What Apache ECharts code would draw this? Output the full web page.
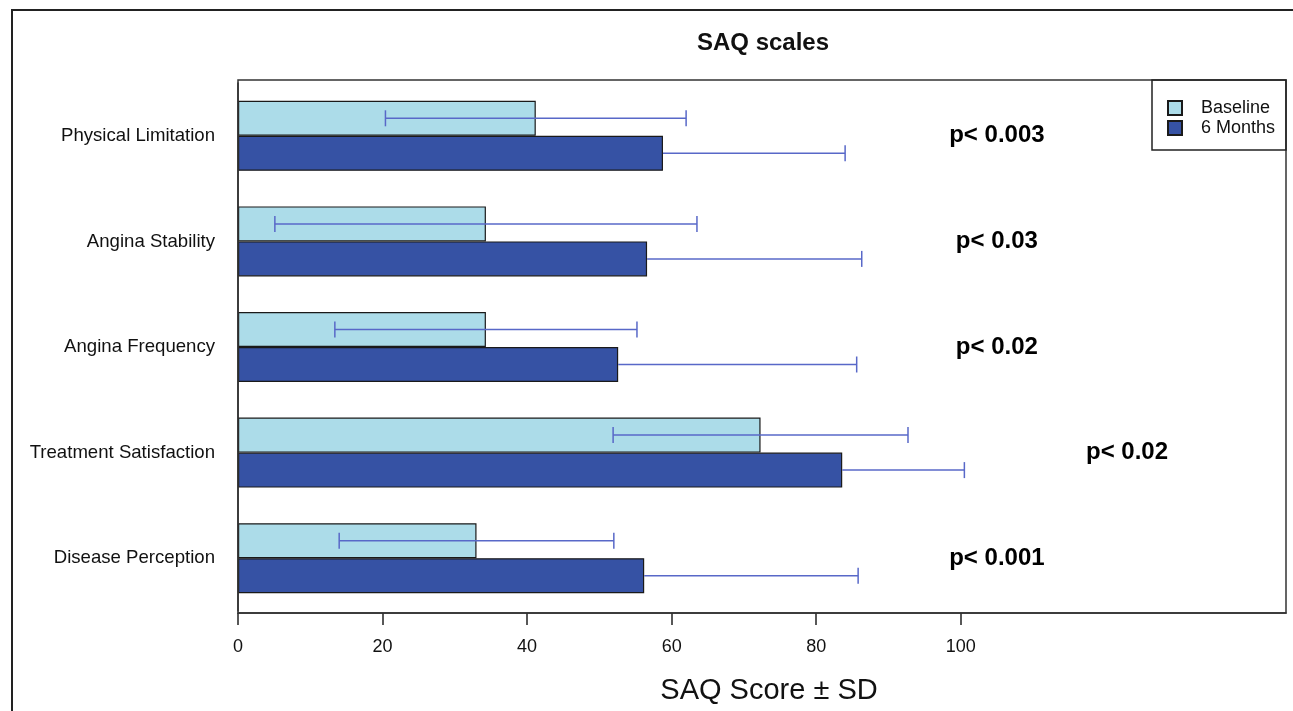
<!DOCTYPE html>
<html><head><meta charset="utf-8">
<script src="https://cdn.jsdelivr.net/npm/echarts@6/dist/echarts.min.js"></script>
<style>html,body{margin:0;padding:0;background:#fff}#c{width:1293px;height:711px}</style>
</head><body><div id="c"></div>
<script>
const categories = ['Physical Limitation','Angina Stability','Angina Frequency','Treatment Satisfaction','Disease Perception'];
const baselineMean = [41.2, 34.3, 34.3, 72.3, 33.0];
const baselineSD   = [20.8, 29.2, 20.9, 20.4, 19.0];
const monthsMean   = [58.8, 56.6, 52.6, 83.6, 56.2];
const monthsSD     = [25.2, 29.7, 33.0, 16.9, 29.6];
const pLabels = ['p< 0.003','p< 0.03','p< 0.02','p< 0.02','p< 0.001'];
const pLabelX = [105, 105, 105, 123, 105];
const xTicks = [0, 20, 40, 60, 80, 100];

const FONT = '"Liberation Sans", Arial, Helvetica, sans-serif';
const errColor = '#5868c8';
const BAR_W = 35;

function errorSeries(name, means, sds, offset, bothSides) {
  return {
    type: 'custom', name: name, z: 10, silent: true,
    renderItem: function (params, api) {
      const i = api.value(0), m = api.value(1), s = api.value(2);
      const lo = api.coord([bothSides ? m - s : m, i]);
      const hi = api.coord([m + s, i]);
      const y = lo[1] + offset;
      const cap = 8;
      const style = { stroke: errColor, lineWidth: 1.5 };
      const children = [
        { type: 'line', shape: { x1: lo[0], y1: y, x2: hi[0], y2: y }, style: style },
        { type: 'line', shape: { x1: hi[0], y1: y - cap, x2: hi[0], y2: y + cap }, style: style }
      ];
      if (bothSides) children.push({ type: 'line', shape: { x1: lo[0], y1: y - cap, x2: lo[0], y2: y + cap }, style: style });
      return { type: 'group', children: children };
    },
    encode: { x: [1, 2], y: 0 },
    data: means.map((m, i) => [i, m, sds[i]])
  };
}

const chart = echarts.init(document.getElementById('c'), null, { renderer: 'canvas' });
chart.setOption({
  animation: false,
  backgroundColor: '#fff',
  textStyle: { fontFamily: FONT },
  title: {
    text: 'SAQ scales', left: 758, top: 26, textAlign: 'center',
    textStyle: { fontFamily: FONT, fontSize: 24, fontWeight: 'bold', color: '#111' }
  },
  graphic: [
    { type: 'rect', z: 100, shape: { x: 12, y: 10, width: 1400, height: 900 }, style: { fill: null, stroke: '#222', lineWidth: 2 } },
    { type: 'rect', z: 100, shape: { x: 238, y: 80, width: 1048, height: 533 }, style: { fill: null, stroke: '#333', lineWidth: 1.5 } },
    { type: 'rect', z: 100, shape: { x: 1152, y: 80, width: 134, height: 70 }, style: { fill: null, stroke: '#222', lineWidth: 1.5 } }
  ],
  legend: {
    orient: 'vertical', left: 1167, top: 99,
    data: ['Baseline', '6 Months'],
    itemWidth: 14, itemHeight: 14, itemGap: 2, padding: 0,
    icon: 'rect',
    textStyle: { fontFamily: FONT, fontSize: 18, color: '#111', padding: [0, 0, 0, 14] }
  },
  grid: { left: 238, right: 7, top: 83, bottom: 100, show: false, containLabel: false },
  xAxis: {
    type: 'value', min: 0, max: 145, interval: 20, offset: 2,
    axisLine: { show: true, lineStyle: { color: '#222', width: 1.5 } },
    axisTick: { show: true, length: 12, customValues: xTicks, lineStyle: { color: '#222', width: 1.5 } },
    axisLabel: { customValues: xTicks, fontFamily: FONT, fontSize: 18, color: '#111', margin: 25 },
    splitLine: { show: false },
    name: 'SAQ Score ± SD', nameLocation: 'middle', nameGap: 63,
    nameTextStyle: { fontFamily: FONT, fontSize: 29, color: '#111', padding: [0, 0, 0, 14] }
  },
  yAxis: {
    type: 'category', data: categories, inverse: true,
    axisLine: { show: true, lineStyle: { color: '#222', width: 1.5 } },
    axisTick: { show: false },
    axisLabel: { fontFamily: FONT, fontSize: 18.6, color: '#111', margin: 23 },
    splitLine: { show: false }
  },
  series: [
    { type: 'bar', name: 'Baseline', data: baselineMean, barWidth: BAR_W, barGap: '0%',
      itemStyle: { color: '#acdce9', borderColor: '#1a1a1a', borderWidth: 1.2 } },
    { type: 'bar', name: '6 Months', data: monthsMean, barWidth: BAR_W, barGap: '0%',
      itemStyle: { color: '#3652a4', borderColor: '#1a1a1a', borderWidth: 1.2 } },
    errorSeries('Baseline SD', baselineMean, baselineSD, -BAR_W / 2, true),
    errorSeries('6 Months SD', monthsMean, monthsSD, BAR_W / 2, false),
    { type: 'scatter', name: 'p', symbolSize: 1, silent: true,
      itemStyle: { color: 'rgba(0,0,0,0)', opacity: 1 },
      data: pLabels.map((t, i) => [pLabelX[i], i]),
      label: { show: true, position: 'inside', formatter: p => pLabels[p.dataIndex], opacity: 1,
        fontFamily: FONT, fontSize: 24, fontWeight: 'bold', color: '#000' } }
  ]
});
</script></body></html>
